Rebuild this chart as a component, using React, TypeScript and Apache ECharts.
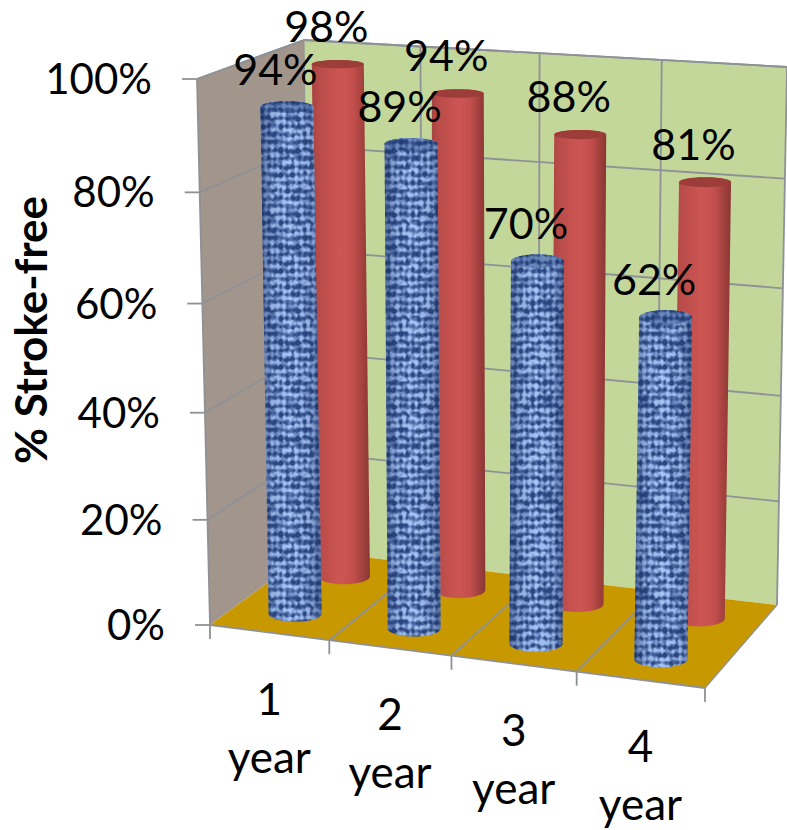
import React, { useEffect, useRef } from "react";
import * as echarts from "echarts";

const categories = ["1\nyear", "2\nyear", "3\nyear", "4\nyear"];
const blueValues = [94, 89, 70, 62];
const redValues = [98, 94, 88, 81];
const yTicks = [0, 20, 40, 60, 80, 100];
const yTitle = "% Stroke-free";

const W = 787;
const H = 830;
const box = { left: 210, top: 78, width: 495, height: 547 };
// screen positions of the eight corners of the 3D box
const A = [210, 625], B = [705, 688], C = [777, 605], D = [311, 551];
const E = [197, 79], F = [716, 114], G = [787, 67], H_ = [304, 40];
const FONT = "Lato";

const mix = (p: number[], q: number[], t: number) => [p[0] + (q[0] - p[0]) * t, p[1] + (q[1] - p[1]) * t];
const warp = (h: number) => h / (1 + 0.048 * (1 - h));
const warpU = (u: number) => u / (1 + 0.05 * (1 - u));
function project(uRaw: number, v: number, h: number) {
  const u = warpU(uRaw);
  const bottom = mix(mix(A, B, u), mix(D, C, u), v);
  const top = mix(mix(E, F, u), mix(H_, G, u), v);
  return mix(bottom, top, warp(h));
}
const toU = (px: number) => (px - box.left) / box.width;
const toH = (py: number) => (box.top + box.height - py) / box.height;

function hash(x: number, y: number) {
  let n = (((x & 255) * 374761393) ^ ((y & 255) * 668265263)) | 0;
  n = Math.imul(n ^ (n >>> 13), 1274126177);
  return ((n ^ (n >>> 16)) >>> 0) / 4294967295;
}
function makeTexture() {
  const size = 96;
  const cv = document.createElement("canvas");
  cv.width = size;
  cv.height = size;
  const ctx = cv.getContext("2d")!;
  const img = ctx.createImageData(size, size);
  const smooth = (t: number) => t * t * (3 - 2 * t);
  const noise = (x: number, y: number, cell: number, salt: number) => {
    const cells = size / cell;
    const cx = Math.floor(x / cell), cy = Math.floor(y / cell);
    const fx = smooth(x / cell - cx), fy = smooth(y / cell - cy);
    const g = (a: number, b: number) => hash(((a + cells) % cells) + salt, ((b + cells) % cells) + salt * 3);
    return g(cx, cy) * (1 - fx) * (1 - fy) + g(cx + 1, cy) * fx * (1 - fy) + g(cx, cy + 1) * (1 - fx) * fy + g(cx + 1, cy + 1) * fx * fy;
  };
  const dark = [44, 72, 128], mid = [98, 130, 188], light = [166, 196, 244];
  for (let y = 0; y < size; y++) {
    for (let x = 0; x < size; x++) {
      const row = 0.5 + 0.5 * Math.sin((2 * Math.PI * y) / 8);
      const col = 0.5 + 0.5 * Math.sin((2 * Math.PI * x) / 6);
      let t = 0.36 * noise(x, y, 4, 0) + 0.22 * noise(x, y, 2, 17) + 0.26 * row + 0.16 * col;
      t = Math.min(1, Math.max(0, (t - 0.5) * 2.6 + 0.5));
      const a = t < 0.5 ? dark : mid;
      const b = t < 0.5 ? mid : light;
      const s = t < 0.5 ? t * 2 : (t - 0.5) * 2;
      const i = (y * size + x) * 4;
      for (let c = 0; c < 3; c++) img.data[i + c] = a[c] + (b[c] - a[c]) * s;
      img.data[i + 3] = 255;
    }
  }
  ctx.putImageData(img, 0, 0);
  return cv;
}

function cylinder(api: any, index: number, value: number, depth: number, rx: number, fill: any, overlay: any, cap: any, capOverlay: any, capRyBase: number) {
  const c = api.coord([index, value]);
  const u = toU(c[0]);
  const h = toH(c[1]);
  const top = project(u, depth, h);
  const bot = project(u, depth, 0);
  top[0] += 1.5;
  bot[0] += 1.5;
  const ryB = 8;
  const ryT = capRyBase - 4.5 * h;
  const pts: number[][] = [];
  const N = 28;
  for (let i = 0; i <= N; i++) {
    const a = Math.PI - (Math.PI * i) / N;
    pts.push([bot[0] + rx * Math.cos(a), bot[1] + ryB * Math.sin(a)]);
  }
  for (let i = 0; i <= N; i++) {
    const a = (Math.PI * i) / N;
    pts.push([top[0] + rx * Math.cos(a), top[1] - ryT * Math.sin(a)]);
  }
  const ell = { cx: top[0], cy: top[1], rx, ry: ryT };
  const children: any[] = [{ type: "polygon", shape: { points: pts }, style: { fill } }];
  if (overlay) children.push({ type: "polygon", shape: { points: pts }, style: { fill: overlay } });
  children.push({ type: "ellipse", shape: ell, style: { fill: cap } });
  if (capOverlay) children.push({ type: "ellipse", shape: ell, style: { fill: capOverlay } });
  return { type: "group", children };
}

const hGrad = (stops: [number, string][]) => ({
  type: "linear", x: 0, y: 0, x2: 1, y2: 0,
  colorStops: stops.map(([offset, color]) => ({ offset, color })),
});

export default function App() {
  const ref = useRef<HTMLDivElement>(null);
  useEffect(() => {
    const chart = echarts.init(ref.current!, null, { renderer: "svg" });
    const tex = makeTexture();
    const pattern: any = { image: tex, repeat: "repeat", imageWidth: 96, imageHeight: 96 };
    const gridColor = "#8e9196";
    const line = (p: number[], q: number[], lineWidth = 1.8) => ({
      type: "line",
      shape: { x1: p[0], y1: p[1], x2: q[0], y2: q[1] },
      style: { stroke: gridColor, lineWidth },
    });

    const option: any = {
      animation: false,
      grid: { left: box.left, top: box.top, width: box.width, height: box.height },
      xAxis: { type: "category", data: categories, show: false },
      yAxis: { type: "value", min: 0, max: 100, interval: 20, show: false },
      graphic: [
        {
          type: "text",
          x: 30,
          y: 330,
          rotation: Math.PI / 2,
          style: { text: yTitle, fontFamily: FONT, fontWeight: "bold", fontSize: 44, fill: "#000", align: "center", verticalAlign: "middle" },
          z: 20,
        },
      ],
      series: [
        {
          type: "custom", name: "walls", coordinateSystem: "cartesian2d", silent: true, z: 1, clip: false,
          data: [[0, 0]],
          renderItem: (_p: any, api: any) => {
            const children: any[] = [];
            const P = (u: number, v: number, h: number) => project(u, v, h);
            children.push({ type: "polygon", shape: { points: [P(0, 0, 0), P(0, 1, 0), P(0, 1, 1), P(0, 0, 1)] }, style: { fill: "#a1958c" } });
            children.push({ type: "polygon", shape: { points: [P(0, 1, 0), P(1, 1, 0), P(1, 1, 1), P(0, 1, 1)] }, style: { fill: "#c4d79b" } });
            yTicks.forEach((t) => {
              const h = toH(api.coord([0, t])[1]);
              if (t > 0) {
                children.push(line(P(0, 0, h), P(0, 1, h)));
                children.push(line(P(0, 1, h), P(1, 1, h)));
              }
              const q = P(0, 0, h);
              children.push(line([q[0] - 15, q[1]], q));
            });
            categories.forEach((_c, i) => {
              const uc = toU(api.coord([i, 0])[0]);
              const u = uc - api.size([1, 0])[0] / box.width / 2;
              if (i > 0) children.push(line(P(u, 1, 0), P(u, 1, 1)));
            });
            children.push(line(P(1, 1, 0), P(1, 1, 1)));
            children.push(line(P(0, 0, 0), P(0, 0, 1)));
            children.push(line(P(0, 1, 0), P(0, 1, 1), 1));
            children.push({ type: "polygon", shape: { points: [P(0, 0, 0), P(1, 0, 0), P(1, 1, 0), P(0, 1, 0)] }, style: { fill: "#c79800" } });
            categories.forEach((_c, i) => {
              const uc = toU(api.coord([i, 0])[0]);
              const u = uc - api.size([1, 0])[0] / box.width / 2;
              const q = P(u, 0, 0);
              if (i > 0) children.push(line(q, P(u, 1, 0)));
              children.push(line(q, [q[0], q[1] + 14]));
            });
            const end = P(1, 0, 0);
            children.push(line(end, [end[0], end[1] + 14]));
            children.push(line(P(0, 0, 0), end));
            children.push(line(end, P(1, 1, 0), 1.2));
            children.push(line(P(0, 0, 1), P(0, 1, 1)));
            children.push(line(P(0, 1, 1), P(1, 1, 1)));
            return { type: "group", children };
          },
        },
        {
          type: "custom", name: "Red", coordinateSystem: "cartesian2d", silent: true, z: 3, clip: false,
          data: redValues.map((v, i) => [i, v]),
          renderItem: (_p: any, api: any) =>
            cylinder(api, api.value(0), api.value(1), 0.75, 26,
              hGrad([[0, "#a84340"], [0.12, "#b84b48"], [0.5, "#cd5653"], [0.72, "#c24f4c"], [0.9, "#9d3f3c"], [1, "#8a3634"]]),
              null, "#9c3d3a", null, 8.6),
        },
        {
          type: "custom", name: "Blue", coordinateSystem: "cartesian2d", silent: true, z: 4, clip: false,
          data: blueValues.map((v, i) => [i, v]),
          renderItem: (_p: any, api: any) =>
            cylinder(api, api.value(0), api.value(1), 0.25, 26.5, pattern,
              hGrad([[0, "rgba(20,40,90,0.55)"], [0.2, "rgba(20,40,90,0.12)"], [0.5, "rgba(20,40,90,0)"], [0.8, "rgba(20,40,90,0.12)"], [1, "rgba(20,40,90,0.55)"]]),
              pattern, "rgba(25,50,105,0.42)", 10),
        },
        {
          type: "custom", name: "value labels", coordinateSystem: "cartesian2d", silent: true, z: 6, clip: false,
          data: [
            ...redValues.map((v, i) => [i, v, 0.75]),
            ...blueValues.map((v, i) => [i, v, 0.25]),
          ],
          renderItem: (_p: any, api: any) => {
            const c = api.coord([api.value(0), api.value(1)]);
            const top = project(toU(c[0]), api.value(2), toH(c[1]));
            return {
              type: "text",
              x: top[0] - 10,
              y: top[1] - 39,
              style: { text: `${api.value(1)}%`, fontFamily: FONT, fontSize: 43, fill: "#000", align: "center", verticalAlign: "middle" },
            };
          },
        },
        {
          type: "custom", name: "y labels", coordinateSystem: "cartesian2d", silent: true, z: 6, clip: false,
          data: yTicks.map((t) => [0, t]),
          renderItem: (_p: any, api: any) => {
            const c = api.coord([0, api.value(1)]);
            const q = project(0, 0, toH(c[1]));
            return {
              type: "text",
              x: q[0] - 45,
              y: q[1] - 1,
              style: { text: `${api.value(1)}%`, fontFamily: FONT, fontSize: 42, fill: "#000", align: "right", verticalAlign: "middle" },
            };
          },
        },
        {
          type: "custom", name: "x labels", coordinateSystem: "cartesian2d", silent: true, z: 6, clip: false,
          data: categories.map((_c, i) => [i, 0]),
          renderItem: (_p: any, api: any) => {
            const i = api.value(0);
            const c = api.coord([i, 0]);
            const q = project(toU(c[0]), 0, 0);
            return {
              type: "text",
              x: q[0],
              y: q[1] + 94,
              style: { text: categories[i], fontFamily: FONT, fontSize: 44, lineHeight: 58, fill: "#000", align: "center", verticalAlign: "middle" },
            };
          },
        },
      ],
    };
    chart.setOption(option);
    return () => chart.dispose();
  }, []);
  return <div ref={ref} style={{ position: "absolute", left: 0, top: 0, width: W, height: H }} />;
}
